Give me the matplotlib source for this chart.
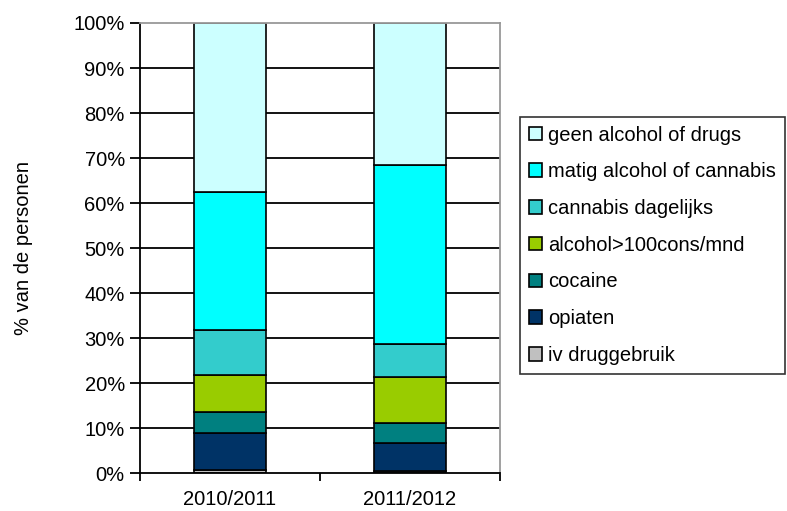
import matplotlib.pyplot as plt
from matplotlib.ticker import PercentFormatter

plt.rcParams['font.family'] = ['Liberation Sans', 'DejaVu Sans']

# data (percent of persons per category, bottom to top)
years = ['2010/2011', '2011/2012']
categories = ['iv druggebruik', 'opiaten', 'cocaine', 'alcohol>100cons/mnd',
              'cannabis dagelijks', 'matig alcohol of cannabis', 'geen alcohol of drugs']
iv_druggebruik = [0.6, 0.5]
opiaten = [8.3, 6.2]
cocaine = [4.8, 4.4]
alcohol_100 = [8.1, 10.2]
cannabis_dagelijks = [9.9, 7.5]
matig_alcohol = [30.7, 39.6]
geen_alcohol = [37.6, 31.6]
colors = ['#C0C0C0', '#003366', '#008080', '#99CC00', '#33CCCC', '#00FFFF', '#CCFFFF']

series = [iv_druggebruik, opiaten, cocaine, alcohol_100,
          cannabis_dagelijks, matig_alcohol, geen_alcohol]

fs = 14.5

fig = plt.figure(figsize=(7.87, 5.11), dpi=100)
ax = fig.add_axes([0.178, 0.074, 0.457, 0.881])

# horizontal grid lines
for v in range(10, 100, 10):
    ax.axhline(v, color='black', lw=1.3, zorder=1)

x = list(range(len(years)))
bottom = [0, 0]
handles = []
for name, vals, col in zip(categories, series, colors):
    h = ax.bar(x, vals, width=0.4, bottom=bottom, color=col, edgecolor='black',
               linewidth=1.2, label=name, zorder=2)
    handles.append(h)
    bottom = [b + v for b, v in zip(bottom, vals)]

ax.set_xlim(-0.5, 1.5)
ax.set_ylim(0, 100)
ax.set_yticks(range(0, 101, 10))
ax.yaxis.set_major_formatter(PercentFormatter(decimals=0))
ax.set_xticks(x)
ax.set_xticklabels(years)
ax.set_xticks([-0.5, 0.5, 1.5], minor=True)
ax.tick_params(axis='x', which='major', length=0, pad=12, labelsize=fs)
ax.tick_params(axis='x', which='minor', length=6, width=1.3, direction='out')
ax.tick_params(axis='y', length=7, width=1.3, direction='out', labelsize=fs, pad=4)

for side in ['left', 'bottom']:
    ax.spines[side].set_linewidth(1.3)
    ax.spines[side].set_color('black')
for side in ['top', 'right']:
    ax.spines[side].set_linewidth(1.3)
    ax.spines[side].set_color('#999999')

ax.set_ylabel('% van de personen', fontsize=fs, labelpad=29)

leg = fig.legend(handles[::-1], categories[::-1], loc='upper left',
                 bbox_to_anchor=(0.661, 0.772), frameon=True, fancybox=False,
                 edgecolor='black', fontsize=fs, handlelength=0.65, handleheight=0.65,
                 handletextpad=0.3, labelspacing=0.88, borderpad=0.45,
                 borderaxespad=0)
leg.get_frame().set_linewidth(1.2)

fig.savefig('out.png', dpi=100)
